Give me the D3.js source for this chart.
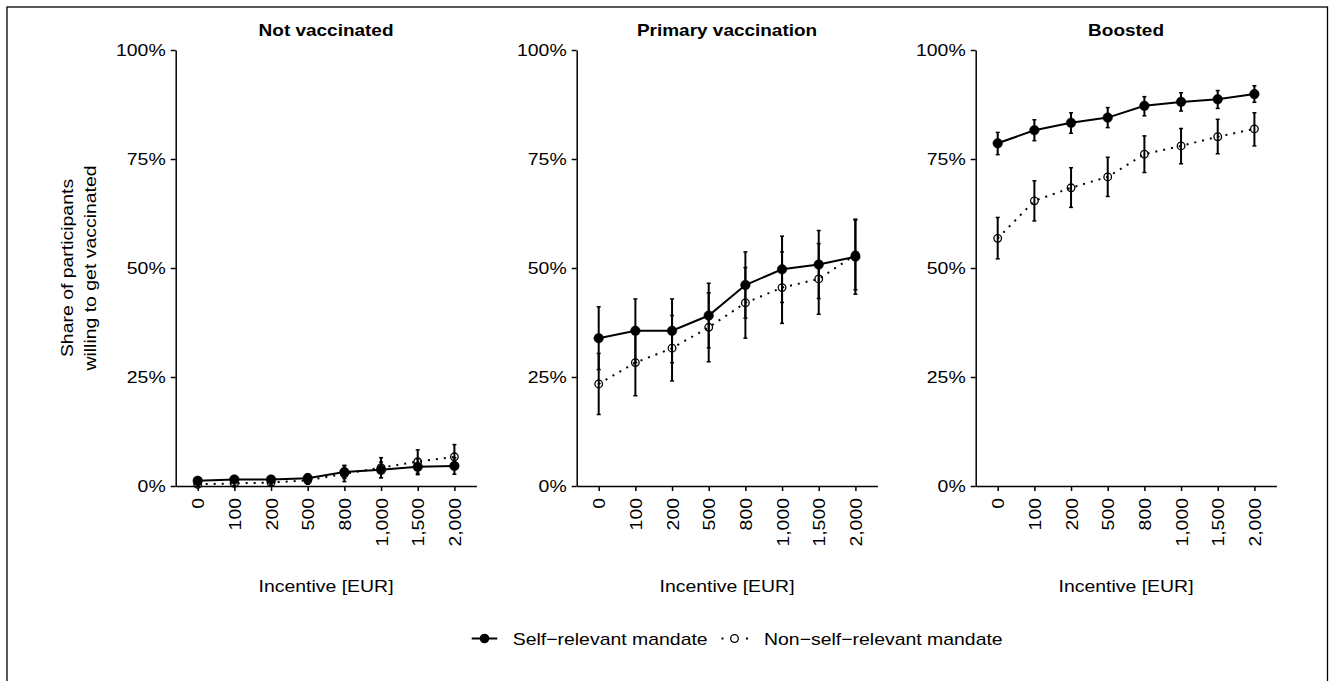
<!DOCTYPE html>
<html>
<head>
<meta charset="utf-8">
<script src="https://cdn.jsdelivr.net/npm/d3@7"></script>
<style>
body { margin: 0; background: #fff; }
svg text { font-family: "Liberation Sans", Arial, sans-serif; fill: #000; }
</style>
</head>
<body>
<svg id="chart" width="1329" height="681"></svg>
<script>
const incentives = ['0', '100', '200', '500', '800', '1,000', '1,500', '2,000'];
const groups = ['Not vaccinated', 'Primary vaccination', 'Boosted'];
const yTicks = [0, 25, 50, 75, 100];
const seriesNames = ['Self\u2212relevant mandate', 'Non\u2212self\u2212relevant mandate'];

// Not vaccinated
const notVaccSelf   = [1.2, 1.5, 1.5, 1.8, 3.2, 3.7, 4.4, 4.6];
const notVaccSelfLo = [0.5, 0.8, 0.8, 0.8, 1.7, 1.9, 2.6, 2.7];
const notVaccSelfHi = [1.9, 2.2, 2.2, 2.8, 4.7, 5.5, 6.2, 6.5];
const notVaccNon    = [0.4, 0.6, 0.8, 1.3, 2.8, 4.2, 5.6, 6.7];
const notVaccNonLo  = [0.0, 0.1, 0.2, 0.4, 1.0, 1.9, 2.9, 4.0];
const notVaccNonHi  = [0.9, 1.3, 1.5, 2.3, 4.7, 6.5, 8.3, 9.5];

// Primary vaccination
const primarySelf   = [33.9, 35.6, 35.6, 39.1, 46.1, 49.7, 50.8, 52.6];
const primarySelfLo = [26.7, 28.3, 28.3, 31.7, 38.5, 42.1, 43.0, 44.0];
const primarySelfHi = [41.1, 42.9, 42.9, 46.5, 53.7, 57.3, 58.6, 61.2];
const primaryNon    = [23.4, 28.3, 31.6, 36.4, 42.0, 45.5, 47.5, 53.0];
const primaryNonLo  = [16.4, 20.7, 24.1, 28.5, 33.9, 37.3, 39.4, 45.0];
const primaryNonHi  = [30.4, 35.9, 39.1, 44.3, 50.1, 53.7, 55.6, 61.0];

// Boosted
const boostedSelf   = [78.6, 81.6, 83.3, 84.5, 87.2, 88.1, 88.7, 89.9];
const boostedSelfLo = [76.0, 79.2, 80.9, 82.2, 84.9, 86.0, 86.6, 88.0];
const boostedSelfHi = [81.1, 84.0, 85.6, 86.8, 89.3, 90.2, 90.7, 91.8];
const boostedNon    = [56.8, 65.4, 68.4, 70.9, 76.1, 78.0, 80.1, 81.9];
const boostedNonLo  = [52.1, 60.8, 63.9, 66.4, 71.9, 73.9, 76.2, 78.0];
const boostedNonHi  = [61.6, 70.0, 73.0, 75.4, 80.3, 82.0, 84.1, 85.6];

const panelData = [
    { self: [notVaccSelf, notVaccSelfLo, notVaccSelfHi], non: [notVaccNon, notVaccNonLo, notVaccNonHi] },
    { self: [primarySelf, primarySelfLo, primarySelfHi], non: [primaryNon, primaryNonLo, primaryNonHi] },
    { self: [boostedSelf, boostedSelfLo, boostedSelfHi], non: [boostedNon, boostedNonLo, boostedNonHi] }
];

const panelLeft = [175.7, 576.7, 975.7];
const panelWidth = 300.7;
const plotTop = 50, plotBottom = 486;
const fontSize = 17.2;
const sx = 1.13; // the source font is a bit wider than Liberation Sans

const svg = d3.select('#chart');

// outer frame
svg.append('rect')
    .attr('x', 7).attr('y', 7)
    .attr('width', 1320.5).attr('height', 700)
    .attr('fill', 'none')
    .attr('stroke', '#000')
    .attr('stroke-width', 1.3);

const y = d3.scaleLinear().domain([0, 100]).range([plotBottom, plotTop]);

function label(x, yy, str, anchor, size, weight) {
    return svg.append('text')
        .attr('transform', 'translate(' + x + ',' + yy + ') scale(' + sx + ',1)')
        .attr('text-anchor', anchor)
        .attr('font-size', size)
        .attr('font-weight', weight || null)
        .text(str);
}

function toRows(arr) {
    return arr[0].map((v, j) => ({ k: incentives[j], v: v, lo: arr[1][j], hi: arr[2][j] }));
}

groups.forEach((name, i) => {
    const x = d3.scalePoint()
        .domain(incentives)
        .range([panelLeft[i], panelLeft[i] + panelWidth])
        .padding(0.6);
    const cx = panelLeft[i] + panelWidth / 2;

    // y axis
    const gy = svg.append('g')
        .attr('transform', 'translate(' + panelLeft[i] + ',0)')
        .call(d3.axisLeft(y).tickValues(yTicks).tickFormat(d => d + '%')
            .tickSize(5).tickSizeOuter(0));
    gy.attr('font-size', fontSize).attr('font-family', null);
    gy.selectAll('path, line').attr('stroke', '#000').attr('stroke-width', 1.5);
    gy.selectAll('text')
        .attr('transform', 'scale(' + sx + ',1)')
        .attr('x', -10 / sx);

    // x axis
    const gx = svg.append('g')
        .attr('transform', 'translate(0,' + plotBottom + ')')
        .call(d3.axisBottom(x).tickSize(5).tickSizeOuter(0));
    gx.attr('font-size', fontSize).attr('font-family', null);
    gx.selectAll('path, line').attr('stroke', '#000').attr('stroke-width', 1.5);
    gx.selectAll('text')
        .attr('transform', 'rotate(-90) scale(' + sx + ',1)')
        .attr('text-anchor', 'end')
        .attr('x', -12 / sx)
        .attr('y', 0)
        .attr('dy', '0.35em');

    // panel title and x title
    label(cx, 36, name, 'middle', 16.8, 'bold');
    label(cx, 592, 'Incentive [EUR]', 'middle', fontSize);

    const line = d3.line().x(d => x(d.k)).y(d => y(d.v));
    const g = svg.append('g');

    [['self', null], ['non', '2,6']].forEach(([key, dash]) => {
        const rows = toRows(panelData[i][key]);

        g.append('path')
            .attr('d', line(rows))
            .attr('fill', 'none')
            .attr('stroke', '#000')
            .attr('stroke-width', 2)
            .attr('stroke-dasharray', dash);

        const bars = g.append('g');
        bars.selectAll('line.bar').data(rows).enter().append('line')
            .attr('x1', d => x(d.k)).attr('x2', d => x(d.k))
            .attr('y1', d => y(d.lo)).attr('y2', d => y(d.hi))
            .attr('stroke', '#000').attr('stroke-width', 2);
        bars.selectAll('line.capLo').data(rows).enter().append('line')
            .attr('x1', d => x(d.k) - 2).attr('x2', d => x(d.k) + 2)
            .attr('y1', d => y(d.lo)).attr('y2', d => y(d.lo))
            .attr('stroke', '#000').attr('stroke-width', 1.5);
        bars.selectAll('line.capHi').data(rows).enter().append('line')
            .attr('x1', d => x(d.k) - 2).attr('x2', d => x(d.k) + 2)
            .attr('y1', d => y(d.hi)).attr('y2', d => y(d.hi))
            .attr('stroke', '#000').attr('stroke-width', 1.5);

        g.selectAll('circle.' + key).data(rows).enter().append('circle')
            .attr('cx', d => x(d.k))
            .attr('cy', d => y(d.v))
            .attr('r', key === 'self' ? 4.8 : 3.8)
            .attr('fill', key === 'self' ? '#000' : 'none')
            .attr('stroke', '#000')
            .attr('stroke-width', key === 'self' ? 0.5 : 1.3);
    });
});

// y axis title
const yTitle = svg.append('text')
    .attr('transform', 'translate(0,268) rotate(-90) scale(' + sx + ',1)')
    .attr('text-anchor', 'middle')
    .attr('font-size', fontSize);
yTitle.append('tspan').attr('x', 0).attr('y', 73.5).text('Share of participants');
yTitle.append('tspan').attr('x', 0).attr('y', 96).text('willing to get vaccinated');

// legend
const legY = 638.5;
const leg = svg.append('g');
leg.append('line')
    .attr('x1', 471.7).attr('x2', 497.3).attr('y1', legY).attr('y2', legY)
    .attr('stroke', '#000').attr('stroke-width', 2);
leg.append('circle').attr('cx', 484.5).attr('cy', legY).attr('r', 4.8).attr('fill', '#000');
label(512.7, legY, seriesNames[0], 'start', fontSize).attr('dy', '0.35em');

leg.append('line')
    .attr('x1', 721.5).attr('x2', 748).attr('y1', legY).attr('y2', legY)
    .attr('stroke', '#000').attr('stroke-width', 2)
    .attr('stroke-dasharray', '2,22.5');
leg.append('circle').attr('cx', 734.5).attr('cy', legY).attr('r', 3.8)
    .attr('fill', 'none').attr('stroke', '#000').attr('stroke-width', 1.3);
label(764, legY, seriesNames[1], 'start', fontSize).attr('dy', '0.35em');
</script>
</body>
</html>
